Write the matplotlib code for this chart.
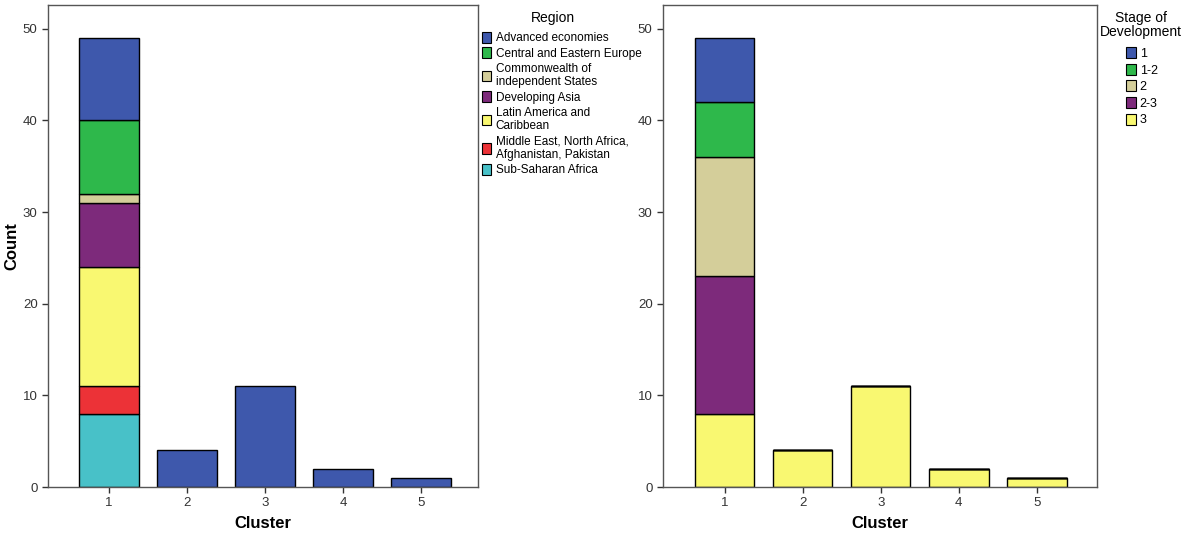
import numpy as np
import matplotlib.pyplot as plt
from matplotlib.patches import Patch

plt.rcParams['font.family'] = ['Liberation Sans', 'DejaVu Sans']

clusters = [1, 2, 3, 4, 5]

# left chart: region counts per cluster (legend order, top of stack first)
regions = ['Advanced economies', 'Central and Eastern Europe',
           'Commonwealth of\nindependent States', 'Developing Asia',
           'Latin America and\nCaribbean',
           'Middle East, North Africa,\nAfghanistan, Pakistan',
           'Sub-Saharan Africa']
advanced = [9, 4, 11, 2, 1]
central_eastern = [8, 0, 0, 0, 0]
commonwealth = [1, 0, 0, 0, 0]
developing_asia = [7, 0, 0, 0, 0]
latin_america = [13, 0, 0, 0, 0]
middle_east = [3, 0, 0, 0, 0]
sub_saharan = [8, 0, 0, 0, 0]
region_counts = [advanced, central_eastern, commonwealth, developing_asia,
                 latin_america, middle_east, sub_saharan]
region_colors = ['#3e58ac', '#2eb84b', '#d4ce9a', '#7d2a7b', '#f9f871',
                 '#ec3237', '#48c1c8']

# right chart: stage of development counts per cluster
stages = ['1', '1-2', '2', '2-3', '3']
stage_1 = [7, 0, 0, 0, 0]
stage_1_2 = [6, 0, 0, 0, 0]
stage_2 = [13, 0, 0, 0, 0]
stage_2_3 = [15, 0, 0, 0, 0]
stage_3 = [8, 4, 11, 2, 1]
stage_counts = [stage_1, stage_1_2, stage_2, stage_2_3, stage_3]
stage_colors = ['#3e58ac', '#2eb84b', '#d4ce9a', '#7d2a7b', '#f9f871']

W, H = 1183, 536
fig = plt.figure(figsize=(W / 100, H / 100), dpi=100)
ax1 = fig.add_axes([48 / W, 1 - 487 / H, 430 / W, 482 / H])
ax2 = fig.add_axes([663 / W, 1 - 487 / H, 434 / W, 482 / H])


def stacked(ax, counts, colors):
    bottom = np.zeros(len(clusters))
    # draw from bottom of stack (last legend item) upward
    for vals, col in zip(counts[::-1], colors[::-1]):
        vals = np.array(vals, dtype=float)
        ax.bar(clusters, vals, bottom=bottom, width=0.76, color=col,
               edgecolor='black', linewidth=1.0)
        bottom += vals


def style(ax, xlim):
    ax.set_xlim(*xlim)
    ax.set_ylim(0, 52.6)
    ax.set_xticks(clusters)
    ax.set_yticks([0, 10, 20, 30, 40, 50])
    for s in ax.spines.values():
        s.set_color('#555555')
        s.set_linewidth(1.0)
    ax.tick_params(labelsize=9.5, colors='#333333', length=4, width=1)
    ax.set_xlabel('Cluster', fontsize=12, fontweight='bold')
    ax.xaxis.set_label_coords(0.5, -0.06)


stacked(ax1, region_counts, region_colors)
stacked(ax2, stage_counts, stage_colors)
style(ax1, (0.22, 5.73))
style(ax2, (0.21, 5.77))
ax1.set_ylabel('Count', fontsize=12, fontweight='bold')
ax1.yaxis.set_label_coords(-0.066, 0.5)

h1 = [Patch(facecolor=c, edgecolor='black', linewidth=0.8) for c in region_colors]
fig.text(553 / W, 1 - 18 / H, 'Region', ha='center', va='center', fontsize=10)
fig.legend(h1, regions, loc='upper left', bbox_to_anchor=(482 / W, 1 - 32 / H),
           frameon=False, fontsize=8.5, handlelength=0.8, handleheight=1.0,
           handletextpad=0.35, labelspacing=0.25, borderaxespad=0, borderpad=0)

h2 = [Patch(facecolor=c, edgecolor='black', linewidth=0.8) for c in stage_colors]
fig.text(1141 / W, 1 - 25 / H, 'Stage of\nDevelopment', ha='center',
         va='center', fontsize=10, linespacing=0.95)
fig.legend(h2, stages, loc='upper left', bbox_to_anchor=(1126 / W, 1 - 47 / H),
           frameon=False, fontsize=9, handlelength=0.8, handleheight=1.0,
           handletextpad=0.3, labelspacing=0.3, borderaxespad=0, borderpad=0)

fig.savefig('out.png', dpi=100)
